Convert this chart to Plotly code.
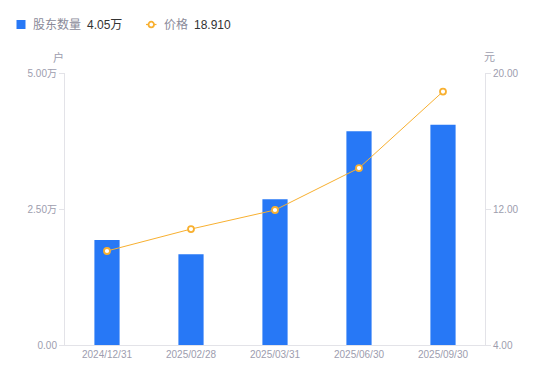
import plotly.graph_objects as go

dates = ["2024/12/31", "2025/02/28", "2025/03/31", "2025/06/30", "2025/09/30"]
holders_wan = [1.93, 1.67, 2.68, 3.93, 4.05]
price = [9.53, 10.82, 11.94, 14.41, 18.91]
left_ticks = [0, 2.5, 5]
left_tick_text = ["0.00", "2.50万", "5.00万"]
right_ticks = [4, 12, 20]
right_tick_text = ["4.00", "12.00", "20.00"]
legend_names = ["股东数量", "价格"]
legend_values = ["4.05万", "18.910"]

BLUE = "#2778f6"
ORANGE = "#f8b030"
GREY = "#9d9dae"
LEG_GREY = "#8a8a99"
DARK = "#333333"
AXIS = "#e3e3e8"
FONT = "'Liberation Sans', Arial, 'Noto Sans CJK SC', sans-serif"
W, H = 550, 381
L, R, T, B = 65, 65, 73, 36
pw, ph = W - L - R, H - T - B


def cx(xp):
    return (xp - L) / pw


def cy(yp):
    return (H - B - yp) / ph


fig = go.Figure()
fig.add_trace(go.Bar(
    x=dates, y=holders_wan, name=legend_names[0],
    marker=dict(color=BLUE, line=dict(width=0)), width=0.3, yaxis="y",
))
fig.add_trace(go.Scatter(
    x=dates, y=price, name=legend_names[1],
    mode="lines+markers", yaxis="y2",
    line=dict(color=ORANGE, width=1),
    marker=dict(size=6, color="white", line=dict(color=ORANGE, width=1.8)),
))

annotations = [
    dict(text="户", xref="paper", yref="paper", x=cx(58), y=cy(57),
         xanchor="center", yanchor="middle", showarrow=False,
         font=dict(size=11, color=GREY)),
    dict(text="元", xref="paper", yref="paper", x=cx(489), y=cy(57),
         xanchor="center", yanchor="middle", showarrow=False,
         font=dict(size=11, color=GREY)),
]
leg_items = [
    (31, legend_names[0], LEG_GREY), (85, legend_values[0], DARK),
    (162, legend_names[1], LEG_GREY), (192, legend_values[1], DARK),
]
for x0, t, c in leg_items:
    annotations.append(dict(text=t, xref="paper", yref="paper",
                            x=cx(x0), y=cy(24.5), xanchor="left", yanchor="middle",
                            showarrow=False, font=dict(size=12, color=c)))

shapes = [
    dict(type="rect", xref="paper", yref="paper", x0=cx(16.5), x1=cx(25.5),
         y0=cy(29), y1=cy(20), fillcolor=BLUE, line=dict(width=0)),
    dict(type="line", xref="paper", yref="paper", x0=cx(146), x1=cx(156.5),
         y0=cy(24.5), y1=cy(24.5), line=dict(color=ORANGE, width=1.2)),
    dict(type="circle", xref="paper", yref="paper", x0=cx(148.5), x1=cx(154),
         y0=cy(27.3), y1=cy(21.7), fillcolor="white", line=dict(color=ORANGE, width=1.8)),
]

fig.update_layout(
    width=W, height=H,
    margin=dict(l=L, r=R, t=T, b=B, autoexpand=False),
    plot_bgcolor="white", paper_bgcolor="white",
    font=dict(family=FONT, size=10, color=GREY),
    showlegend=False,
    xaxis=dict(type="category", showgrid=False, showline=True, linecolor=AXIS,
               ticks="", tickfont=dict(size=10, color=GREY)),
    yaxis=dict(range=[0, 5], tickvals=left_ticks, ticktext=left_tick_text,
               showgrid=False, zeroline=False, showline=True, linecolor=AXIS,
               ticks="outside", ticklen=5, tickcolor=AXIS,
               tickfont=dict(size=10, color=GREY)),
    yaxis2=dict(range=[4, 20], tickvals=right_ticks, ticktext=right_tick_text,
                overlaying="y", side="right",
                showgrid=False, zeroline=False, showline=True, linecolor=AXIS,
                ticks="outside", ticklen=5, tickcolor=AXIS,
                tickfont=dict(size=10, color=GREY)),
    annotations=annotations,
    shapes=shapes,
)

fig.write_html("out.html", post_script="document.body.style.margin='0';",
               config={"displayModeBar": False})
